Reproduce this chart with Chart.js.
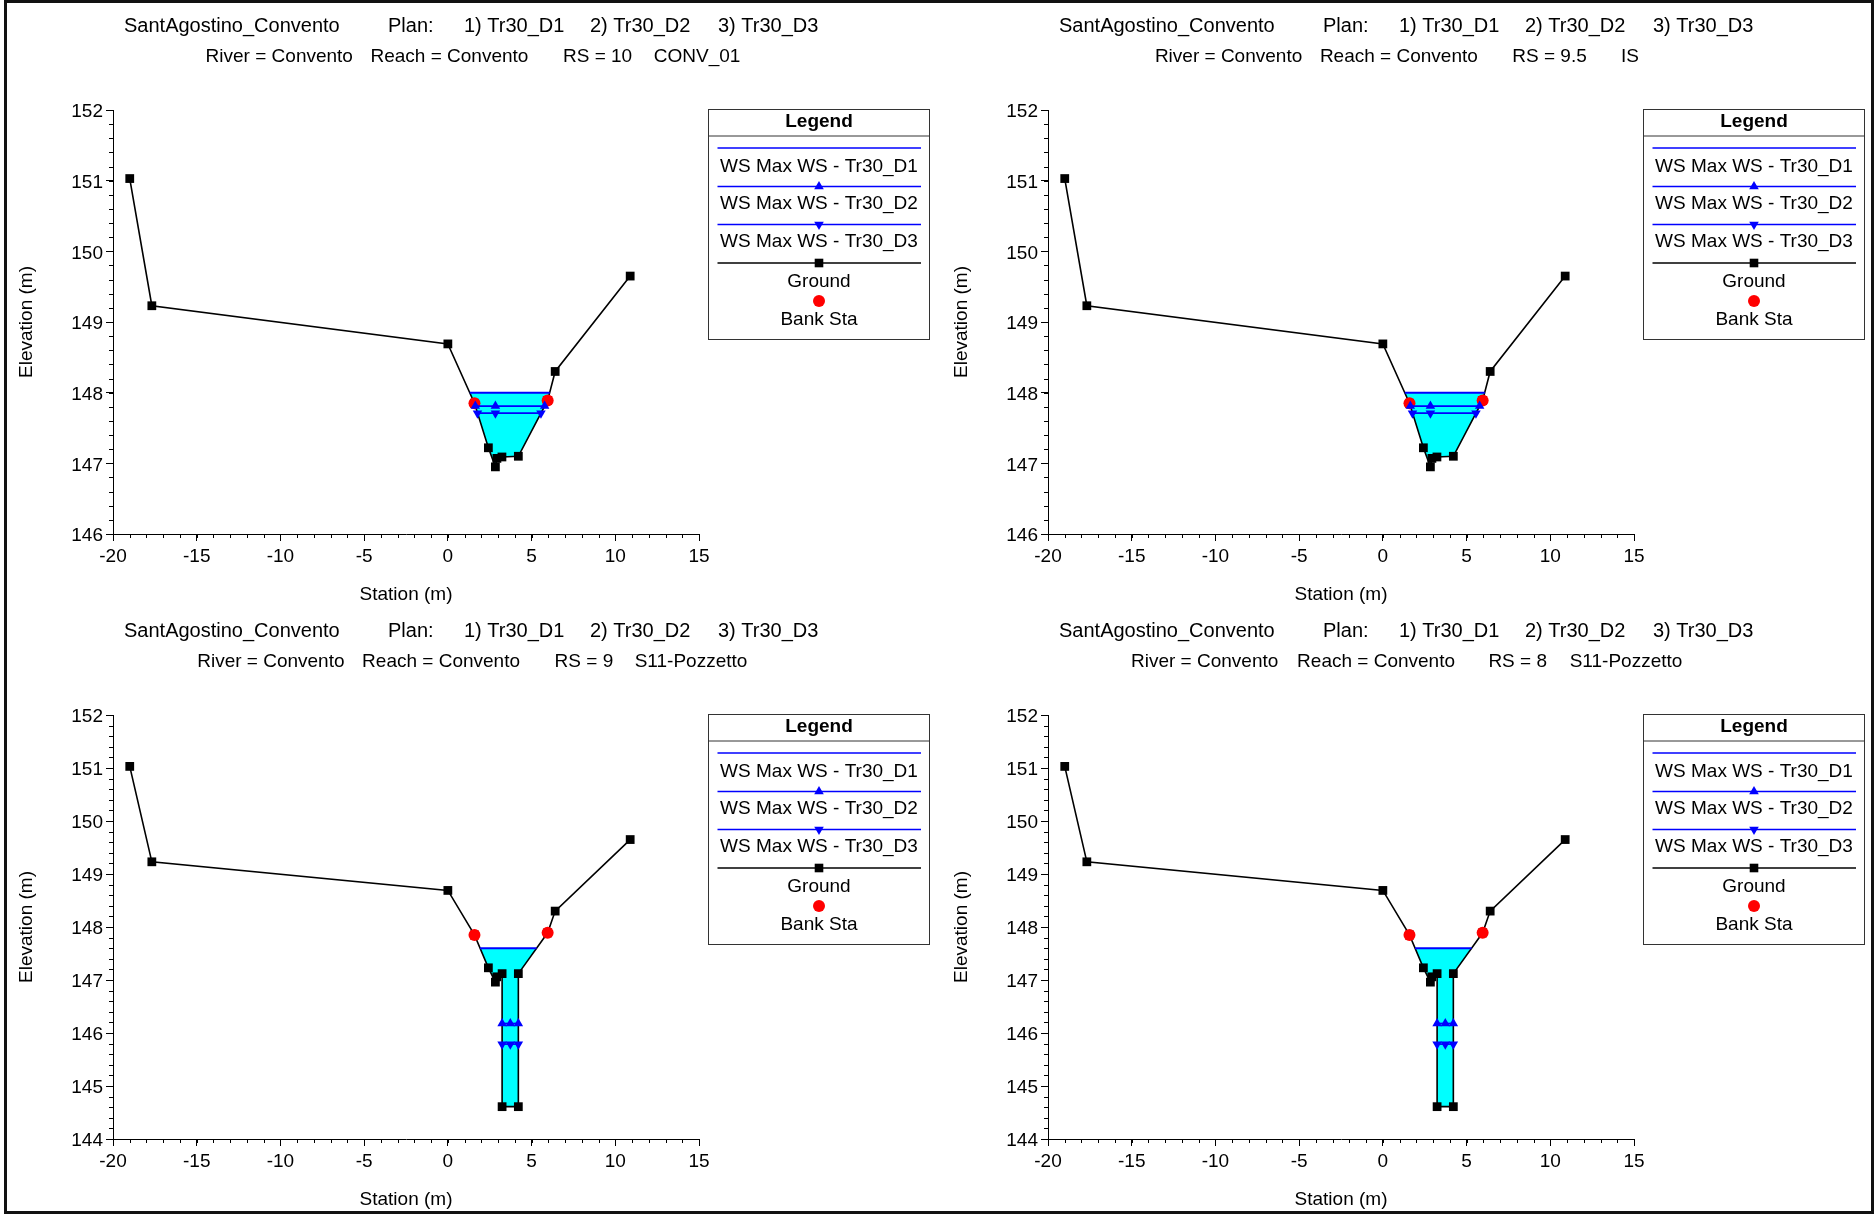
<!DOCTYPE html>
<html>
<head>
<meta charset="utf-8">
<script src="https://cdn.jsdelivr.net/npm/chart.js@4.4.0/dist/chart.umd.min.js"></script>
<style>
html,body{margin:0;padding:0;background:#fff;}
body{width:1874px;height:1214px;position:relative;overflow:hidden;}
canvas{position:absolute;}
#frame{position:absolute;left:4px;top:0;width:1870px;height:1214px;box-sizing:border-box;border:3px solid #111;pointer-events:none;}
</style>
</head>
<body>
<canvas id="c0" width="935" height="605" style="left:0;top:0"></canvas>
<canvas id="c1" width="939" height="605" style="left:935px;top:0"></canvas>
<canvas id="c2" width="935" height="609" style="left:0;top:605px"></canvas>
<canvas id="c3" width="939" height="609" style="left:935px;top:605px"></canvas>
<div id="frame"></div>
<script>
// ---------- DATA ----------
const titleLine1 = ['SantAgostino_Convento', 'Plan:', '1) Tr30_D1', '2) Tr30_D2', '3) Tr30_D3'];
const line2_RS10  = ['River = Convento', 'Reach = Convento', 'RS = 10', 'CONV_01'];
const line2_RS95  = ['River = Convento', 'Reach = Convento', 'RS = 9.5', 'IS'];
const line2_RS9   = ['River = Convento', 'Reach = Convento', 'RS = 9', 'S11-Pozzetto'];
const line2_RS8   = ['River = Convento', 'Reach = Convento', 'RS = 8', 'S11-Pozzetto'];
const legendLabels = ['WS Max WS - Tr30_D1', 'WS Max WS - Tr30_D2', 'WS Max WS - Tr30_D3', 'Ground', 'Bank Sta'];
const xTickRange = [-20, 15];
const yRangeA = [146, 152];
const yRangeB = [144, 152];

// Sections RS 10 / RS 9.5 (open channel)
const groundStaA  = [-19.0, -17.68, 0, 1.59, 2.42, 2.84, 2.93, 3.23, 4.21, 5.96, 6.41, 10.89];
const groundElevA = [151.03, 149.23, 148.69, 147.85, 147.22, 146.95, 147.07, 147.09, 147.10, 147.89, 148.30, 149.65];
const bankStaA  = [1.59, 5.96];
const bankElevA = [147.85, 147.89];
const wsD1StaA  = [1.31, 6.09];
const wsD1ElevA = [148.00, 148.00];
const wsD2StaA  = [1.64, 2.84, 5.78];
const wsD2ElevA = [147.81, 147.81, 147.81];
const wsD3StaA  = [1.77, 2.84, 5.56];
const wsD3ElevA = [147.71, 147.71, 147.71];

// Sections RS 9 / RS 8 (S11-Pozzetto, with shaft)
const groundStaB  = [-19.0, -17.68, 0, 1.59, 2.42, 2.84, 2.92, 3.24, 3.24, 4.21, 4.21, 5.96, 6.41, 10.89];
const groundElevB = [151.03, 149.23, 148.69, 147.85, 147.23, 146.96, 147.06, 147.12, 144.61, 144.61, 147.12, 147.89, 148.30, 149.65];
const bankStaB  = [1.59, 5.96];
const bankElevB = [147.85, 147.89];
const wsD1StaB  = [1.92, 5.30];
const wsD1ElevB = [147.60, 147.60];
const wsD2StaB  = [3.24, 3.73, 4.21];
const wsD2ElevB = [146.18, 146.18, 146.18];
const wsD3StaB  = [3.24, 3.73, 4.21];
const wsD3ElevB = [145.79, 145.79, 145.79];

// ---------- HELPERS ----------
const FONT = "'Liberation Sans', Arial, Helvetica, sans-serif";
Chart.defaults.font.family = FONT;
Chart.defaults.font.size = 19;
Chart.defaults.color = '#000';

function pts(xs, ys) { return xs.map((x, i) => ({x: x, y: ys[i]})); }
function wetShape(wsSta, wsElev, gSta, gElev) {
  const out = [{x: wsSta[0], y: wsElev[0]}];
  gSta.forEach((s, i) => { if (s > wsSta[0] && s < wsSta[wsSta.length - 1]) out.push({x: s, y: gElev[i]}); });
  out.push({x: wsSta[wsSta.length - 1], y: wsElev[wsElev.length - 1]});
  return out;
}

const BLUE = '#0000ff', CYAN = '#00ffff', RED = '#ff0000', BLACK = '#000000';

const decorPlugin = {
  id: 'hecDecor',
  afterDraw(chart, args, opts) {
    const ctx = chart.ctx;
    ctx.save();
    // Titles
    ctx.fillStyle = '#000';
    ctx.textBaseline = 'middle';
    ctx.textAlign = 'left';
    ctx.font = '20px ' + FONT;
    const l1x = [124, 388, 464, 590, 718];
    titleLine1.forEach((t, i) => ctx.fillText(t, l1x[i], 26));
    ctx.font = '19px ' + FONT;
    opts.line2.forEach((t, i) => ctx.fillText(t, opts.line2X[i], 56.5));

    // Minor ticks
    ctx.strokeStyle = '#000';
    ctx.lineWidth = 1;
    const xs = chart.scales.x, ys = chart.scales.y;
    const ca = chart.chartArea;
    for (let v = Math.round(xs.min); v <= xs.max; v += 1) {
      const px = Math.round(xs.getPixelForValue(v)) + 0.5;
      ctx.beginPath(); ctx.moveTo(px, ca.bottom); ctx.lineTo(px, ca.bottom + 4); ctx.stroke();
    }
    const n = Math.round((ys.max - ys.min) / 0.2);
    for (let i = 0; i <= n; i++) {
      const v = ys.min + i * 0.2;
      const py = Math.round(ys.getPixelForValue(v)) + 0.5;
      ctx.beginPath(); ctx.moveTo(ca.left - 4, py); ctx.lineTo(ca.left, py); ctx.stroke();
    }

    // Legend box
    const bx = 708.5, by = 109.5, bw = 221, bh = 230, cx = 819;
    ctx.strokeStyle = '#333';
    ctx.lineWidth = 1;
    ctx.strokeRect(bx, by, bw, bh);
    ctx.beginPath(); ctx.moveTo(bx, by + 26.5); ctx.lineTo(bx + bw, by + 26.5); ctx.stroke();
    ctx.textAlign = 'center';
    ctx.fillStyle = '#000';
    ctx.font = 'bold 19px ' + FONT;
    ctx.fillText('Legend', cx, by + 12);
    ctx.font = '19px ' + FONT;
    const lx0 = 717.5, lx1 = 921;
    const lineY = [38.5, 77, 115, 153.5];
    const textY = [57, 94.5, 132, 172, 210];
    const lcol = [BLUE, BLUE, BLUE, BLACK];
    for (let i = 0; i < 4; i++) {
      ctx.strokeStyle = lcol[i];
      ctx.lineWidth = 1.5;
      ctx.beginPath(); ctx.moveTo(lx0, by + lineY[i]); ctx.lineTo(lx1, by + lineY[i]); ctx.stroke();
    }
    const y2 = by + lineY[1], y3 = by + lineY[2], y4 = by + lineY[3];
    ctx.fillStyle = BLUE;
    ctx.beginPath(); ctx.moveTo(cx, y2 - 5.5); ctx.lineTo(cx + 4.8, y2 + 2.8); ctx.lineTo(cx - 4.8, y2 + 2.8); ctx.closePath(); ctx.fill();
    ctx.beginPath(); ctx.moveTo(cx, y3 + 5.5); ctx.lineTo(cx + 4.8, y3 - 2.8); ctx.lineTo(cx - 4.8, y3 - 2.8); ctx.closePath(); ctx.fill();
    ctx.fillStyle = BLACK;
    ctx.fillRect(cx - 4.3, y4 - 4.3, 8.6, 8.6);
    ctx.fillStyle = RED;
    ctx.beginPath(); ctx.arc(cx, by + 191.5, 6, 0, Math.PI * 2); ctx.fill();
    ctx.fillStyle = '#000';
    legendLabels.forEach((t, i) => ctx.fillText(t, cx, by + textY[i]));
    ctx.restore();
  }
};

function makeChart(id, sec, line2, line2X) {
  const cv = document.getElementById(id);
  const W = cv.width, H = cv.height;
  const datasets = [
    {label: 'fill', data: wetShape(sec.d1s, sec.d1e, sec.gs, sec.ge), showLine: true, borderWidth: 0,
     pointRadius: 0, backgroundColor: CYAN, fill: 'shape', order: 5},
    {label: legendLabels[3], data: pts(sec.gs, sec.ge), showLine: true, borderColor: BLACK, borderWidth: 1.6,
     pointStyle: 'rect', pointRadius: 6.2, pointBackgroundColor: BLACK, pointBorderWidth: 0, order: 4},
    {label: legendLabels[4], data: pts(sec.bs, sec.be), showLine: false, pointStyle: 'circle', pointRadius: 6,
     pointBackgroundColor: RED, pointBorderWidth: 0, order: 3},
    {label: legendLabels[0], data: pts(sec.d1s, sec.d1e), showLine: true, borderColor: BLUE, borderWidth: 2,
     pointRadius: 0, order: 2},
    {label: legendLabels[1], data: pts(sec.d2s, sec.d2e), showLine: true, borderColor: BLUE, borderWidth: 1.6,
     pointStyle: 'triangle', pointRadius: 5.5, pointBackgroundColor: BLUE, pointBorderWidth: 0, order: 1},
    {label: legendLabels[2], data: pts(sec.d3s, sec.d3e), showLine: true, borderColor: BLUE, borderWidth: 1.6,
     pointStyle: 'triangle', pointRotation: 180, pointRadius: 5.5, pointBackgroundColor: BLUE, pointBorderWidth: 0, order: 0}
  ];
  new Chart(cv, {
    type: 'scatter',
    data: {datasets: datasets},
    plugins: [decorPlugin],
    options: {
      responsive: false,
      animation: false,
      events: [],
      layout: {padding: {left: 8, right: W - 699, top: 110, bottom: H - 534 - 72}},
      plugins: {
        legend: {display: false},
        tooltip: {enabled: false},
        title: {display: false},
        hecDecor: {line2: line2, line2X: line2X}
      },
      elements: {line: {tension: 0}},
      scales: {
        x: {
          type: 'linear', min: xTickRange[0], max: xTickRange[1],
          ticks: {stepSize: 5, padding: 4, maxRotation: 0, autoSkip: false, color: '#000', font: {size: 19}},
          grid: {drawOnChartArea: false, drawTicks: true, tickLength: 7, color: '#000', tickColor: '#000'},
          border: {display: true, color: '#000', width: 1},
          title: {display: true, text: 'Station (m)', font: {size: 19}, color: '#000', padding: {top: 0, bottom: 0}},
          afterFit: s => { s.height = 72; }
        },
        y: {
          type: 'linear', min: sec.yr[0], max: sec.yr[1],
          ticks: {stepSize: 1, padding: 3, labelOffset: 2, color: '#000', font: {size: 19}},
          grid: {drawOnChartArea: false, drawTicks: true, tickLength: 7, color: '#000', tickColor: '#000'},
          border: {display: true, color: '#000', width: 1},
          title: {display: true, text: 'Elevation (m)', font: {size: 19}, color: '#000', padding: {top: 7, bottom: 0}},
          afterFit: s => { s.width = 105; }
        }
      }
    }
  });
}

const secA = {gs: groundStaA, ge: groundElevA, bs: bankStaA, be: bankElevA,
  d1s: wsD1StaA, d1e: wsD1ElevA, d2s: wsD2StaA, d2e: wsD2ElevA, d3s: wsD3StaA, d3e: wsD3ElevA, yr: yRangeA};
const secB = {gs: groundStaB, ge: groundElevB, bs: bankStaB, be: bankElevB,
  d1s: wsD1StaB, d1e: wsD1ElevB, d2s: wsD2StaB, d2e: wsD2ElevB, d3s: wsD3StaB, d3e: wsD3ElevB, yr: yRangeB};

makeChart('c0', secA, line2_RS10, [205.6, 370.5, 563, 653.8]);
makeChart('c1', secA, line2_RS95, [219.9, 384.9, 577.3, 686]);
makeChart('c2', secB, line2_RS9,  [197.2, 362.1, 554.6, 634.7]);
makeChart('c3', secB, line2_RS8,  [196, 362.1, 553.4, 634.7]);
</script>
</body>
</html>
